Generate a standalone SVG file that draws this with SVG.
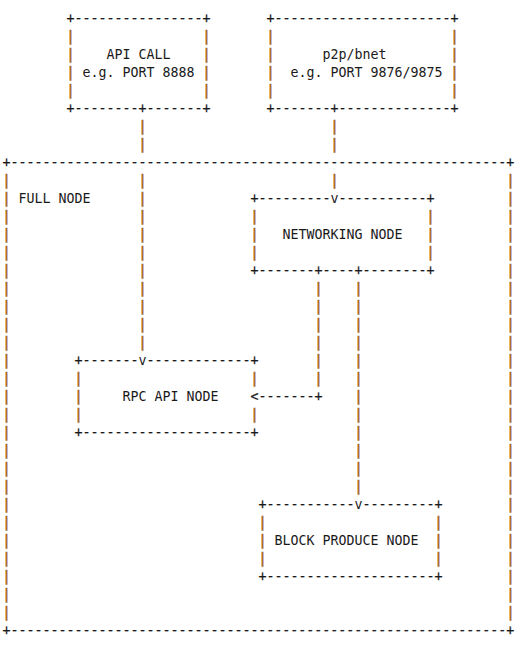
<svg xmlns="http://www.w3.org/2000/svg" width="521" height="648" viewBox="0 0 521 648">
<style>
text{font-family:"DejaVu Sans Mono","Liberation Mono",monospace;font-size:13.29px;fill:#1a1a1a;white-space:pre}
.v{fill:#a5621d;stroke:#a5621d;stroke-width:0.6px}
.b{stroke:#1a1a1a;stroke-width:0.25px}
</style>
<rect width="521" height="648" fill="#ffffff"/>
<g id="api-call">
<text class="b" x="66.5" y="23">+----------------+</text>
<text class="v" x="66.5 66.5 66.5 66.5" y="41 59 77 95">||||</text>
<text class="v" x="202.5 202.5 202.5 202.5" y="41 59 77 95">||||</text>
<text x="106.5" y="59">API CALL</text>
<text x="82.5" y="77">e.g. PORT 8888</text>
<text class="b" x="66.5" y="113">+--------</text>
<text class="b" x="146.5" y="113">-------+</text>
</g>
<g id="p2p-bnet">
<text class="b" x="266.5" y="23">+----------------------+</text>
<text class="v" x="266.5 266.5 266.5 266.5" y="41 59 77 95">||||</text>
<text class="v" x="450.5 450.5 450.5 450.5" y="41 59 77 95">||||</text>
<text x="322.5" y="59">p2p/bnet</text>
<text x="290.5" y="77">e.g. PORT 9876/9875</text>
<text class="b" x="266.5" y="113">+-------</text>
<text class="b" x="338.5" y="113">--------------+</text>
</g>
<g id="full-node">
<text class="b" x="2.5" y="167">+--------------------------------------------------------------+</text>
<text class="v" x="2.5 2.5 2.5 2.5 2.5 2.5 2.5 2.5 2.5 2.5 2.5 2.5 2.5 2.5 2.5 2.5 2.5 2.5 2.5 2.5 2.5 2.5 2.5 2.5 2.5" y="185 203 221 239 257 275 293 311 329 347 365 383 401 419 437 455 473 491 509 527 545 563 581 599 617">|||||||||||||||||||||||||</text>
<text class="v" x="506.5 506.5 506.5 506.5 506.5 506.5 506.5 506.5 506.5 506.5 506.5 506.5 506.5 506.5 506.5 506.5 506.5 506.5 506.5 506.5 506.5 506.5 506.5 506.5 506.5" y="185 203 221 239 257 275 293 311 329 347 365 383 401 419 437 455 473 491 509 527 545 563 581 599 617">|||||||||||||||||||||||||</text>
<text x="18.5" y="203">FULL NODE</text>
<text class="b" x="2.5" y="635">+--------------------------------------------------------------+</text>
</g>
<g id="networking-node">
<text class="b" x="250.5" y="203">+---------</text>
<text class="b" x="338.5" y="203">-----------+</text>
<text class="v" x="250.5 250.5 250.5" y="221 239 257">|||</text>
<text class="v" x="426.5 426.5 426.5" y="221 239 257">|||</text>
<text x="282.5" y="239">NETWORKING NODE</text>
<text class="b" x="250.5" y="275">+-------</text>
<text class="b" x="322.5" y="275">----</text>
<text class="b" x="362.5" y="275">--------+</text>
</g>
<g id="rpc-api-node">
<text class="b" x="74.5" y="365">+-------</text>
<text class="b" x="146.5" y="365">-------------+</text>
<text class="v" x="74.5 74.5 74.5" y="383 401 419">|||</text>
<text class="v" x="250.5" y="383">|</text>
<text class="v" x="250.5" y="419">|</text>
<text x="122.5" y="401">RPC API NODE</text>
<text class="b" x="74.5" y="437">+---------------------+</text>
</g>
<g id="block-produce-node">
<text class="b" x="258.5" y="509">+-----------</text>
<text class="b" x="362.5" y="509">---------+</text>
<text class="v" x="258.5 258.5 258.5" y="527 545 563">|||</text>
<text class="v" x="434.5 434.5 434.5" y="527 545 563">|||</text>
<text x="274.5" y="545">BLOCK PRODUCE NODE</text>
<text class="b" x="258.5" y="581">+---------------------+</text>
</g>
<g id="connectors">
<text class="b" x="138.5" y="113">+</text>
<text class="v" x="138.5 138.5" y="131 149">||</text>
<text class="v" x="138.5 138.5 138.5 138.5 138.5 138.5 138.5 138.5 138.5 138.5" y="185 203 221 239 257 275 293 311 329 347">||||||||||</text>
<text x="138.5" y="365">v</text>
<text class="b" x="330.5" y="113">+</text>
<text class="v" x="330.5 330.5" y="131 149">||</text>
<text class="v" x="330.5" y="185">|</text>
<text x="330.5" y="203">v</text>
<text class="b" x="314.5" y="275">+</text>
<text class="v" x="314.5 314.5 314.5 314.5 314.5 314.5" y="293 311 329 347 365 383">||||||</text>
<text class="b" x="314.5" y="401">+</text>
<text class="b" x="250.5" y="401">&lt;-------</text>
<text class="b" x="354.5" y="275">+</text>
<text class="v" x="354.5 354.5 354.5 354.5 354.5 354.5 354.5 354.5 354.5 354.5 354.5 354.5" y="293 311 329 347 365 383 401 419 437 455 473 491">||||||||||||</text>
<text x="354.5" y="509">v</text>
</g>
</svg>
